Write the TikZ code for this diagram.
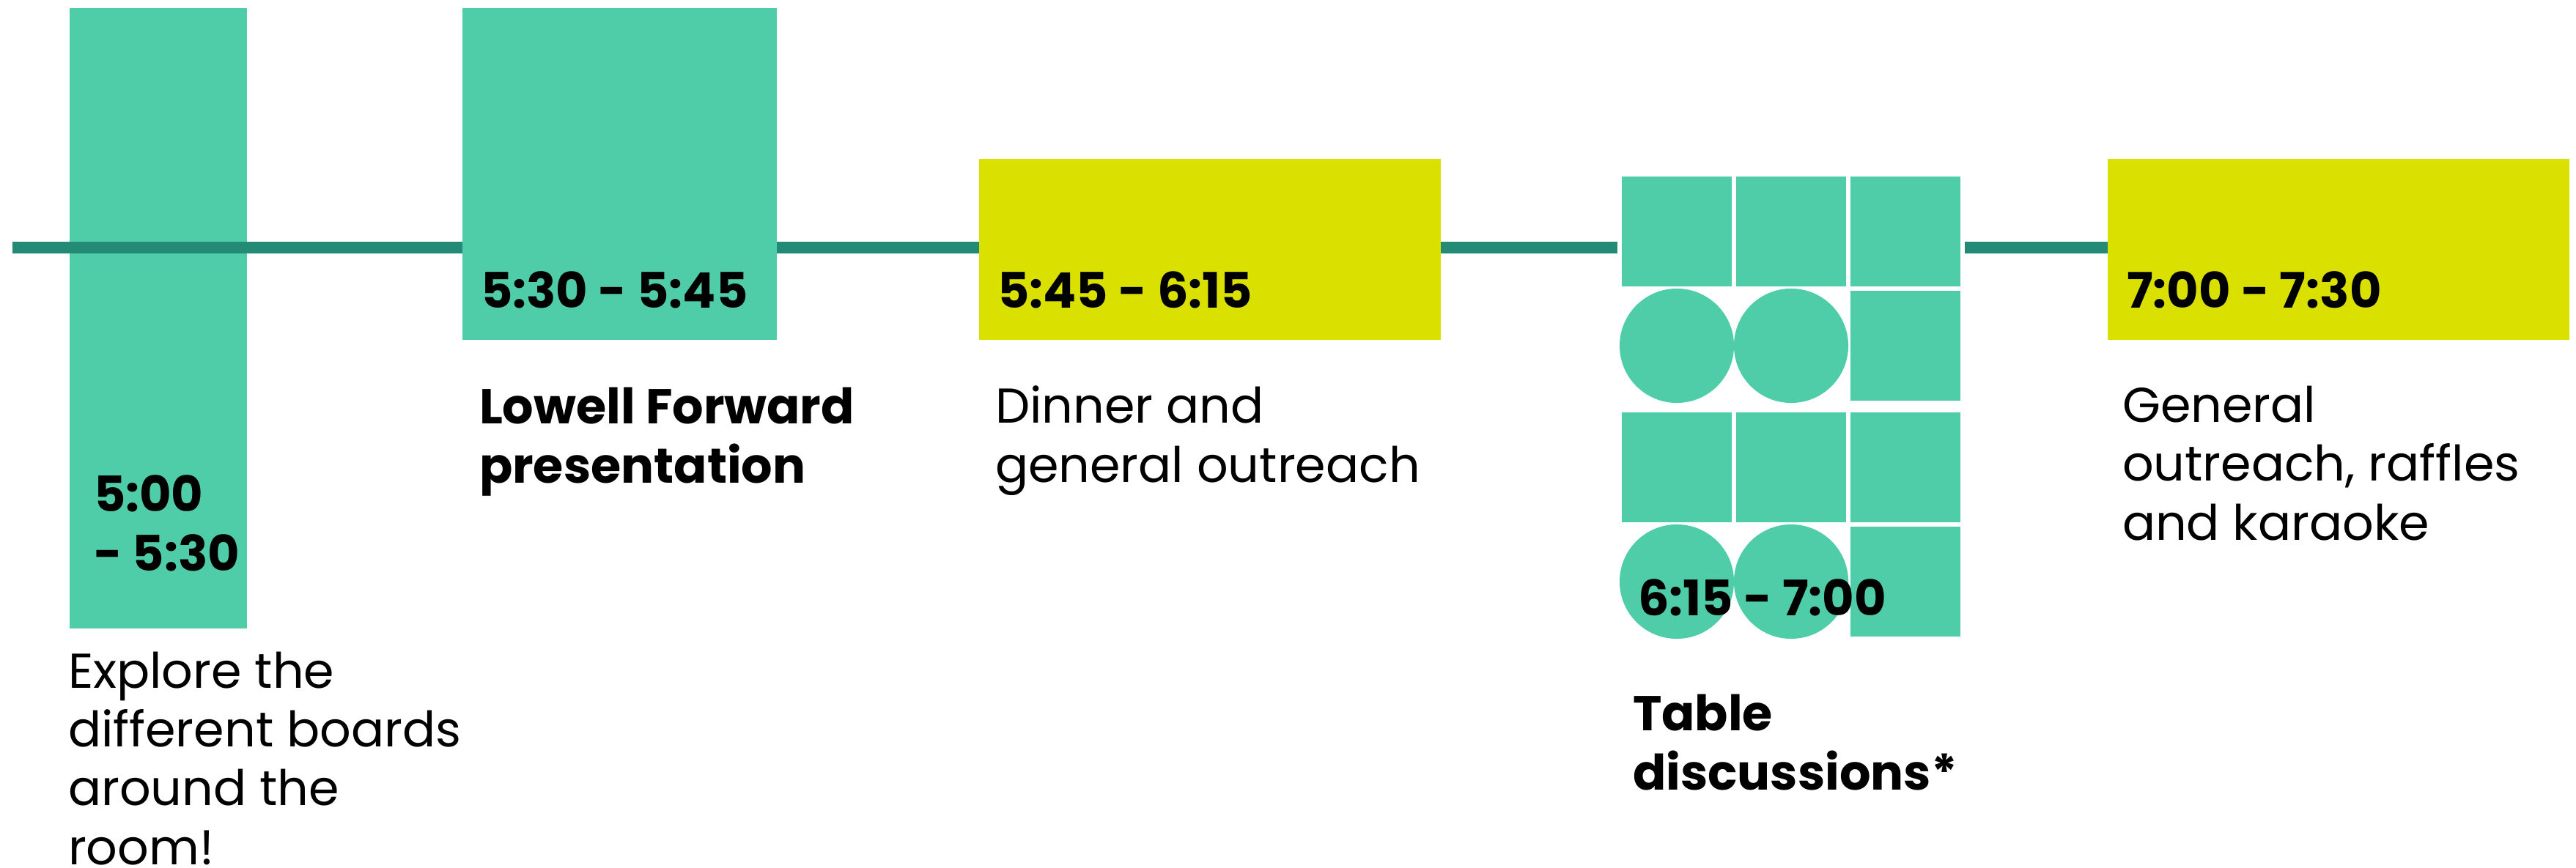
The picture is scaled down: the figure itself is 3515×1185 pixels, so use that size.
\documentclass[tikz,border=0pt]{standalone}
\usepackage{fontspec}
\setmainfont{Poppins}
\definecolor{mint}{HTML}{4ECDA8}
\definecolor{pine}{HTML}{228A75}
\definecolor{lime}{HTML}{DAE000}

\begin{document}
\begin{tikzpicture}[x=0.01cm, y=-0.01cm]
	\tikzset {every node/.style={inner sep=0pt, outer sep=0pt},
		slot/.style={rectangle, anchor=north west, fill=#1},
		tablesq/.style={rectangle, minimum size=1.56cm, fill=mint, draw=white, line width=0.06cm},
		tablecirc/.style={circle, minimum size=1.56cm, fill=mint},
		timeline/.style={pine, line width=0.16cm},
		timelabel/.style={anchor=base west, align=left, font=\bfseries\fontsize{19}{22.8}\selectfont},
		desclabel/.style={anchor=base west, align=left, font=\fontsize{19}{22.8}\selectfont} }

	\useasboundingbox (0,0) rectangle (3515,1185);

	\node[slot=mint, minimum width=2.42cm, minimum height=8.47cm] (explore) at (95,11) {};
	\coordinate (tl-start) at (17,338);
	\coordinate (tl-end) at (2876,338);
	\draw[timeline] (tl-start) -- (tl-end);

	\node[slot=mint, minimum width=4.29cm, minimum height=4.53cm]  (lowell) at (631,11) {};
	\node[slot=lime, minimum width=6.30cm, minimum height=2.47cm]  (dinner) at (1336,217) {};
	\node[slot=lime, minimum width=6.30cm, minimum height=2.47cm]  (karaoke) at (2876,217) {};

	\foreach \cx/\ry [count=\i] in {2288/316, 2444/316, 2600/316, 2600/472, 2288/638, 2444/638, 2600/638, 2600/794}
		\node[tablesq] (sq\i) at (\cx,\ry) {};
	\foreach \cx/\ry [count=\i] in {2288/472, 2444/472, 2288/794, 2444/794}
		\node[tablecirc] (circ\i) at (\cx,\ry) {};

	% multi-line labels sit on the baseline of their last line
	\node[timelabel] (t-explore) at (128,779) {5:00\\- 5:30};
	\node[timelabel] (t-lowell)  at (656,420) {5:30 - 5:45};
	\node[timelabel] (t-dinner)  at (1361,420) {5:45 - 6:15};
	\node[timelabel] (t-table)   at (2235,840) {6:15 - 7:00};
	\node[timelabel] (t-karaoke) at (2902,420) {7:00 - 7:30};

	\node[desclabel] (d-explore) at (93,1180) {Explore the\\different boards\\around the\\room!};
	\node[timelabel] (d-lowell)  at (654,659) {Lowell Forward\\presentation};
	\node[desclabel] (d-dinner)  at (1358,658) {Dinner and\\general outreach};
	\node[timelabel] (d-table)   at (2228,1078) {Table\\discussions*};
	\node[desclabel] (d-karaoke) at (2896,737) {General\\outreach, raffles\\and karaoke};

\end{tikzpicture}
\end{document}
